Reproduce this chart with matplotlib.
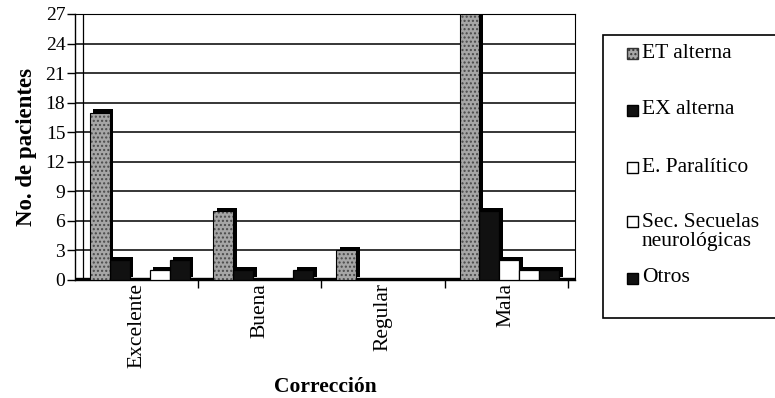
import matplotlib
matplotlib.use("Agg")
import matplotlib.pyplot as plt
import numpy as np
from matplotlib.patches import Rectangle

plt.rcParams['font.family'] = ['Liberation Serif', 'DejaVu Serif']

categories = ["Excelente", "Buena", "Regular", "Mala"]
series_names = ["ET alterna", "EX alterna", "E. Paralítico",
                "Sec. Secuelas\nneurológicas", "Otros"]
et_alterna = [17, 7, 3, 27]
ex_alterna = [2, 1, 0, 7]
e_paralitico = [0, 0, 0, 2]
secuelas = [1, 0, 0, 1]
otros = [2, 1, 0, 1]
yticks = [0, 3, 6, 9, 12, 15, 18, 21, 24, 27]

series = [et_alterna, ex_alterna, e_paralitico, secuelas, otros]
faces = ['#a6a6a6', '#111111', '#ffffff', '#ffffff', '#111111']

W, H = 775, 398
fig = plt.figure(figsize=(W / 100, H / 100), dpi=100)
# axes: x 75..575 px, y 14..280 px
ax = fig.add_axes([75 / W, 1 - 280 / H, 500 / W, 266 / H])

x = np.arange(len(categories))
w = 0.162
dx, dy = 0.03, 0.35
for i, (vals, fc) in enumerate(zip(series, faces)):
    pos = x - 0.38 + w / 2 + i * w
    # depth (3D side/top)
    ax.bar(pos + dx, vals, w, bottom=dy, color='#000000', zorder=2 + i * 0.01)
    if i == 0:
        ax.bar(pos, vals, w, color=fc, edgecolor='#4a4a4a', hatch='....',
               linewidth=0, zorder=3)
        ax.bar(pos, vals, w, color='none', edgecolor='black', linewidth=0.8, zorder=3.1)
    else:
        ax.bar(pos, vals, w, color=fc, edgecolor='black', linewidth=0.9, zorder=3)

ax.set_xlim(-0.5, len(categories) - 0.5 + 0.057)
ax.set_ylim(0, 27)
ax.set_yticks(yticks)
ax.set_yticklabels([str(t) for t in yticks], fontsize=14)
ax.yaxis.grid(True, color='black', linewidth=1.1, zorder=0)
ax.set_axisbelow(True)
ax.set_xticks(x)
ax.set_xticklabels(categories, rotation=90, fontsize=15.5)
ax.tick_params(axis='x', length=0, pad=2)
ax.set_xticks(list(x[:-1] + 0.5) + [3.5], minor=True)
ax.tick_params(axis='x', which='minor', length=6, direction='out', width=1)
ax.tick_params(axis='y', length=6, width=1, direction='out', pad=1)
for s in ax.spines.values():
    s.set_color('black')
    s.set_linewidth(1)
ax.spines['right'].set_linewidth(0.8)
ax.spines['top'].set_linewidth(0.8)
# inner wall line (3D back wall edge)
ax.axvline(-0.5 + 8 / 123, color='black', linewidth=0.9, zorder=1)
# floor band
ax.axhspan(0, 0.25, color='black', zorder=1.5)

ax.set_ylabel("No. de pacientes", fontsize=16.5, fontweight='bold', labelpad=6)
fig.text(325 / W, 1 - 387 / H, "Corrección", fontsize=15.5, fontweight='bold',
         ha='center', va='center')

# legend drawn manually in pixel positions
def fx(px):
    return px / W

def fy(py):
    return 1 - py / H

fig.patches.append(Rectangle((fx(603), fy(318)), fx(190), (283) / H,
                             transform=fig.transFigure, facecolor='white',
                             edgecolor='black', linewidth=1.2, zorder=5))
rows = [53, 110, 167, 222, 278]
text_y = [53, 110, 167, 232, 278]
hs = 11
for i, (name, ry, ty) in enumerate(zip(series_names, rows, text_y)):
    hatch = '....' if i == 0 else None
    ec = '#333333' if i == 0 else 'black'
    fig.patches.append(Rectangle((fx(627), fy(ry + hs / 2)), hs / W, hs / H,
                                 transform=fig.transFigure, facecolor=faces[i],
                                 edgecolor=ec, hatch=hatch, linewidth=1, zorder=6))
    fig.text(fx(642), fy(ty), name, fontsize=15.5, va='center', ha='left',
             linespacing=0.95, zorder=7)

fig.savefig("out.png", dpi=100)
